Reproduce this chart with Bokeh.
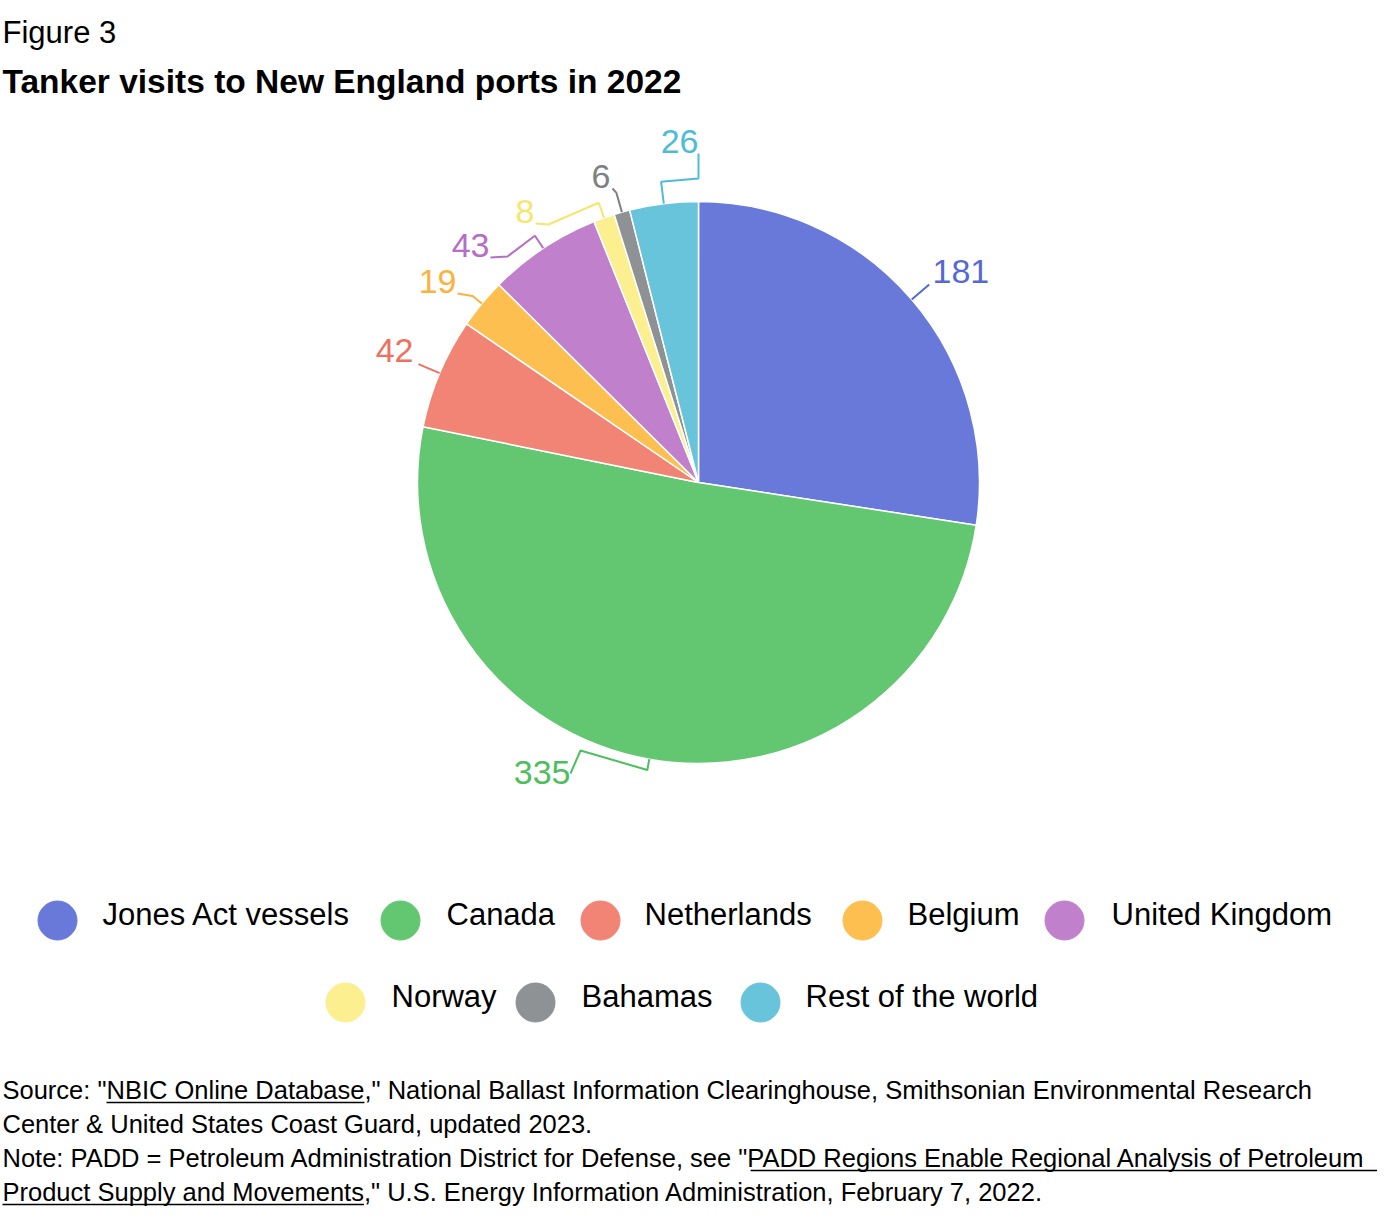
import math
from bokeh.plotting import figure
from bokeh.models import Range1d
from bokeh.core.properties import value
from bokeh.embed import file_html
from bokeh.resources import INLINE

# ---------------- data ----------------
categories = ["Jones Act vessels", "Canada", "Netherlands", "Belgium",
              "United Kingdom", "Norway", "Bahamas", "Rest of the world"]
visits = [181, 335, 42, 19, 43, 8, 6, 26]

fig_label = "Figure 3"
title_text = "Tanker visits to New England ports in 2022"

# ---------------- styles ----------------
fill_colors = ["#6879DA", "#63C772", "#F28476", "#FDBF50",
               "#C080CC", "#FBEF8F", "#8F9295", "#68C4DA"]
label_colors = ["#5568D6", "#4DBF5E", "#F0705F", "#FBB23E",
                "#B66DC8", "#F7E56E", "#7E8184", "#4EBCD7"]
FONT = "Liberation Sans"
BASE_K = 0.39   # empirical shift so that a text's baseline lands on the given y

# ---------------- layout (canvas pixels) ----------------
W, H = 1384, 1207
CX, CY, R = 698, 482, 281
conn_ext = [23, 11, 23, 12, 15, 16, 20, 22]
conn_via = [[], [(580, 750), (570, 773)], [], [(457, 293)],
            [(507, 256), (490, 257)], [(548, 224), (535, 223)],
            [(612, 188)], [(698, 178), (698, 153)]]
label_anchor = [(932, 284, "left"), (570, 785, "right"), (413, 363, "right"),
                (456, 294, "right"), (489, 258, "right"), (534, 224, "right"),
                (610, 189, "right"), (698, 154, "right")]

legend_circle_x = [57, 400, 600, 862, 1064, 345, 535, 760]
legend_text_x = [102, 446, 644, 907, 1111, 391, 581, 805]
legend_row_y = [920, 920, 920, 920, 920, 1002, 1002, 1002]


def Y(sy):
    return -sy


def TB(sy, size):
    # data y for a text whose alphabetic baseline should sit at screen y
    return -(sy - BASE_K * size)


p = figure(width=W, height=H, x_range=Range1d(0, W), y_range=Range1d(-H, 0),
           output_backend="svg", toolbar_location=None, x_axis_type=None, y_axis_type=None,
           min_border=0, outline_line_color=None, background_fill_color="white",
           border_fill_color="white")
p.grid.visible = False

# ---------------- pie ----------------
total = float(sum(visits))
starts, ends, mids = [], [], []
cum = 0.0
for v in visits:
    a0 = cum / total * 2 * math.pi
    cum += v
    a1 = cum / total * 2 * math.pi
    starts.append(math.pi / 2 - a1)
    ends.append(math.pi / 2 - a0)
    mids.append(math.pi / 2 - (a0 + a1) / 2)

p.wedge(x=[CX] * len(visits), y=[Y(CY)] * len(visits), radius=R,
        start_angle=starts, end_angle=ends, fill_color=fill_colors,
        line_color="white", line_width=1.5)

xs, ys = [], []
for i, m in enumerate(mids):
    px0 = CX + R * math.cos(m)
    py0 = CY - R * math.sin(m)
    px1 = CX + (R + conn_ext[i]) * math.cos(m)
    py1 = CY - (R + conn_ext[i]) * math.sin(m)
    ptsx = [px0, px1] + [q[0] for q in conn_via[i]]
    ptsy = [py0, py1] + [q[1] for q in conn_via[i]]
    xs.append(ptsx)
    ys.append([Y(v) for v in ptsy])
p.multi_line(xs=xs, ys=ys, line_color=label_colors, line_width=2)

LBL = 34
for i, v in enumerate(visits):
    lx, ly, al = label_anchor[i]
    p.text(x=[lx], y=[TB(ly, LBL)], text=[str(v)], text_color=label_colors[i],
           text_font=value(FONT), text_font_size=value(f"{LBL}px"),
           text_align=al, text_baseline="alphabetic")

# ---------------- titles ----------------
p.text(x=[2], y=[TB(44, 31)], text=[fig_label], text_font=value(FONT),
       text_font_size=value("31px"), text_color="#000000",
       text_align="left", text_baseline="alphabetic")
p.text(x=[2], y=[TB(94, 33.5)], text=[title_text], text_font=value(FONT),
       text_font_size=value("33.5px"), text_font_style="bold", text_color="#000000",
       text_align="left", text_baseline="alphabetic")

# ---------------- legend ----------------
p.scatter(x=legend_circle_x, y=[Y(v) for v in legend_row_y], size=39, marker="circle",
          fill_color=fill_colors, line_color=fill_colors, line_width=1)
p.text(x=legend_text_x, y=[TB(v + 6, 31) for v in legend_row_y], text=categories,
       text_font=value(FONT), text_font_size=value("31px"), text_color="#000000",
       text_align="left", text_baseline="alphabetic")

# ---------------- footnotes ----------------
AW = {' ': 278, '!': 278, '"': 355, '&': 667, "'": 191, '(': 333, ')': 333, ',': 278,
      '-': 333, '.': 278, '/': 278, ':': 278, ';': 278, '=': 584, '?': 556}
for ch in '0123456789':
    AW[ch] = 556
AW.update(dict(zip("ABCDEFGHIJKLMNOPQRSTUVWXYZ",
                   [667, 667, 722, 722, 667, 611, 778, 722, 278, 500, 667, 556, 833,
                    722, 778, 667, 778, 722, 667, 611, 722, 667, 944, 667, 667, 611])))
AW.update(dict(zip("abcdefghijklmnopqrstuvwxyz",
                   [556, 556, 500, 556, 556, 278, 556, 556, 222, 222, 500, 222, 833,
                    556, 556, 556, 556, 333, 500, 278, 556, 500, 722, 500, 500, 500])))


def tw(s, size):
    return sum(AW.get(c, 556) for c in s) / 1000.0 * size


FN_SIZE = 25.5
foot_lines = [
    [('Source: "', False), ("NBIC Online Database", True),
     ('," National Ballast Information Clearinghouse, Smithsonian Environmental Research', False)],
    [("Center & United States Coast Guard, updated 2023.", False)],
    [('Note: PADD = Petroleum Administration District for Defense, see "', False),
     ("PADD Regions Enable Regional Analysis of Petroleum ", True)],
    [("Product Supply and Movements", True),
     ('," U.S. Energy Information Administration, February 7, 2022.', False)],
]
foot_base = [1099, 1133, 1167, 1201]

ux0, ux1, uy = [], [], []
for li, segs in enumerate(foot_lines):
    full = "".join(s for s, _ in segs)
    p.text(x=[2], y=[TB(foot_base[li], FN_SIZE)], text=[full], text_font=value(FONT),
           text_font_size=value(f"{FN_SIZE}px"), text_color="#000000",
           text_align="left", text_baseline="alphabetic")
    xcur = 2.0
    for s, u in segs:
        w = tw(s, FN_SIZE)
        if u:
            ux0.append(xcur)
            ux1.append(xcur + w)
            uy.append(Y(foot_base[li] + 3))
        xcur += w
p.segment(x0=ux0, y0=uy, x1=ux1, y1=uy, line_color="#000000", line_width=1.5)

open("out.html", "w").write(file_html(p, INLINE))
